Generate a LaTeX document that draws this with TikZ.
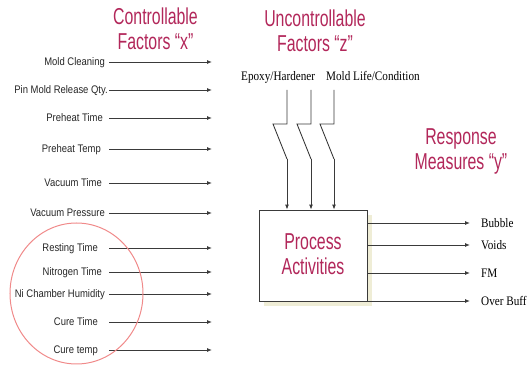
\documentclass[tikz,border=0pt]{standalone}
\usepackage{fontspec}
\setmainfont{Liberation Sans}
\newfontfamily\titlefont[FakeStretch=0.69]{Liberation Sans}
\newfontfamily\labelfont[FakeStretch=0.86]{Liberation Sans}
\newfontfamily\serifx[FakeStretch=0.86]{Liberation Serif}
\usetikzlibrary{arrows.meta,shapes.geometric}
\definecolor{crim}{HTML}{B2275A}
\definecolor{linegray}{HTML}{3A3A3A}
\definecolor{ringred}{HTML}{F08A8A}
\definecolor{shadowc}{HTML}{EFEDD6}
\tikzset{
  arr/.style={draw=linegray, line width=0.9pt, -{Latex[length=5pt,width=4pt]}},
  plain/.style={draw=linegray, line width=0.9pt},
  title/.style={text=crim, align=center, inner sep=0pt, font=\titlefont\fontsize{23}{25}\selectfont},
  factor/.style={inner sep=0pt, anchor=base east, font=\labelfont\fontsize{11}{13}\selectfont, text=black!85},
  resp/.style={inner sep=0pt, anchor=base west, font=\serifx\fontsize{13}{15}\selectfont},
  noise/.style={inner sep=0pt, anchor=base west, font=\serifx\fontsize{13}{15}\selectfont},
}
\begin{document}
\begin{tikzpicture}[x=1pt,y=-1pt]
\useasboundingbox (0,0) rectangle (531,366);
% titles
\node[title] (tx) at (155.5,29.2) {Controllable\\Factors “x”};
\node[title] (tz) at (315,30.9) {Uncontrollable\\Factors “z”};
\node[title] (ty) at (461,151) {Response\\Measures “y”};
% controllable factors
\foreach \i/\t/\yy/\rx in {1/Mold Cleaning/62/105, 2/Pin Mold Release Qty./90/108,
  3/Preheat Time/118/103, 4/Preheat Temp/149/101, 5/Vacuum Time/183/102,
  6/Vacuum Pressure/213/105, 7/Resting Time/248/98, 8/Nitrogen Time/272/102,
  9/Ni Chamber Humidity/294/105, 10/Cure Time/322/98, 11/Cure temp/350/98}{
  \node[factor] (f\i) at (\rx,\yy+4) {\t};
  \coordinate (s\i) at (109,\yy);
  \coordinate (e\i) at (212,\yy);
  \draw[arr] (s\i) -- (e\i);
}
% ring
\node[ellipse, draw=ringred, line width=1pt, minimum width=133pt, minimum height=141pt, inner sep=0pt] (ring) at (76.5,293.5) {};
% process box with shadow
\fill[shadowc] (264,215) rectangle (372,306);
\node[draw=linegray, line width=0.8pt, fill=white, minimum width=108pt, minimum height=91pt, inner sep=0pt] (box) at (313,255.5) {};
\node[title] (pa) at (313,254) {Process\\Activities};
% uncontrollable factors
\node[noise] (n1) at (241,81) {Epoxy/Hardener};
\node[noise] (n2) at (326,81) {Mold Life/Condition};
\foreach \i/\xx in {1/287, 2/311, 3/334}{
  \coordinate (z\i) at (\xx,90);
  \draw[plain] (z\i) -- ++(0,34) -- ++(-14,0) -- ++(14,35);
  \coordinate (k\i) at (\xx,159);
  \draw[arr] (k\i) -- (box.north -| z\i);
}
% responses
\foreach \i/\t/\yy in {1/Bubble/223, 2/Voids/245, 3/FM/273, 4/Over Buff/301}{
  \coordinate (o\i) at (470,\yy);
  \draw[arr] (box.east |- o\i) -- (o\i);
  \node[resp] (r\i) at (481,\yy+4.5) {\t};
}
\end{tikzpicture}
\end{document}
